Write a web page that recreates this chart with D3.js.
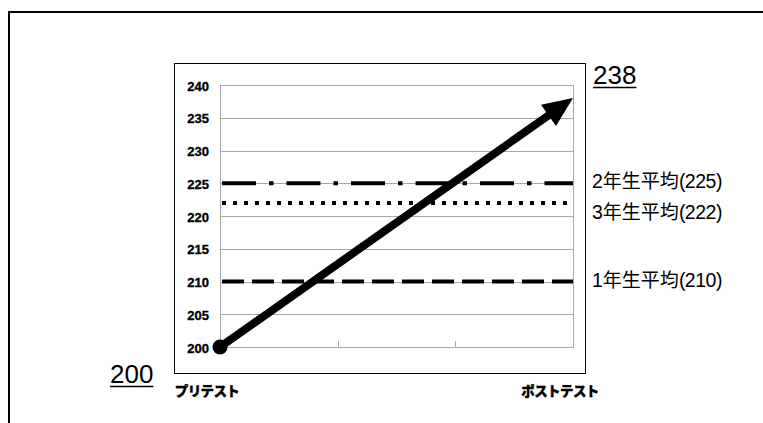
<!DOCTYPE html>
<html>
<head>
<meta charset="utf-8">
<script src="https://cdn.jsdelivr.net/npm/d3@7"></script>
<style>
  html, body { margin: 0; padding: 0; background: #fff; }
  svg { display: block; }
</style>
</head>
<body>
<svg id="chart" width="763" height="423"></svg>
<script>
// Category positions along the x axis (only the first and last are labelled)
const categories = ["pre", "c2", "c3", "post"];
const categoryLabels = ["プリテスト", "", "", "ポストテスト"];

// Score growth: pretest → posttest
const growthCats = ["pre", "post"];
const growthValues = [200, 238];

// Grade averages drawn as reference lines
const gradeNames = ["2年生平均", "3年生平均", "1年生平均"];
const gradeValues = [225, 222, 210];
const gradeDash = ["34,13,4.5,13", "4,7", "22,8"];

// Y axis ticks
const yTicks = [200, 205, 210, 215, 220, 225, 230, 235, 240];

const svg = d3.select("#chart");

// Outer frame (open to the right and bottom)
svg.append("path")
  .attr("d", "M9,423 V12 H763")
  .attr("fill", "none")
  .attr("stroke", "#000")
  .attr("stroke-width", 2);

// Chart box
svg.append("rect")
  .attr("x", 174.5).attr("y", 63.5)
  .attr("width", 411).attr("height", 310)
  .attr("fill", "#fff")
  .attr("stroke", "#000")
  .attr("stroke-width", 1);

const x = d3.scalePoint().domain(categories).range([220, 573]);
const y = d3.scaleLinear().domain([200, 240]).range([347, 85]);

const gridColor = "#a8a8a8";

// Horizontal gridlines
svg.append("g")
  .selectAll("line")
  .data(yTicks)
  .join("line")
  .attr("x1", x.range()[0]).attr("x2", x.range()[1])
  .attr("y1", d => Math.round(y(d)) + 0.5)
  .attr("y2", d => Math.round(y(d)) + 0.5)
  .attr("stroke", gridColor)
  .attr("stroke-width", 1);

// Plot border (left / right)
svg.append("rect")
  .attr("x", x.range()[0] + 0.5)
  .attr("y", Math.round(y(240)) + 0.5)
  .attr("width", x.range()[1] - x.range()[0])
  .attr("height", Math.round(y(200)) - Math.round(y(240)))
  .attr("fill", "none")
  .attr("stroke", gridColor)
  .attr("stroke-width", 1);

// Inward category ticks on the x axis
svg.append("g")
  .selectAll("line")
  .data(categories.slice(1, -1))
  .join("line")
  .attr("x1", d => Math.round(x(d)) + 0.5)
  .attr("x2", d => Math.round(x(d)) + 0.5)
  .attr("y1", Math.round(y(200)))
  .attr("y2", Math.round(y(200)) - 6)
  .attr("stroke", gridColor);

// Y axis tick labels
const yAxis = d3.axisLeft(y).tickValues(yTicks).tickSize(0).tickPadding(11);
const gy = svg.append("g")
  .attr("transform", `translate(${x.range()[0]},1)`)
  .call(yAxis);
gy.select(".domain").remove();
gy.selectAll("text")
  .attr("font-family", "'Liberation Sans', Arial, sans-serif")
  .attr("font-weight", "bold")
  .attr("font-size", 13)
  .attr("fill", "#000")
  .attr("stroke", "#000")
  .attr("stroke-width", 0.35);

// Category labels below the chart box
svg.append("g")
  .selectAll("text")
  .data(categories.filter((c, i) => categoryLabels[i]))
  .join("text")
  .attr("x", d => x(d) - 13)
  .attr("y", 396)
  .attr("text-anchor", "middle")
  .attr("font-family", "'Noto Sans CJK JP', sans-serif")
  .attr("font-weight", "900")
  .attr("font-size", 13.5)
  .attr("letter-spacing", -0.6)
  .attr("stroke", "#000")
  .attr("stroke-width", 0.3)
  .text(d => categoryLabels[categories.indexOf(d)]);

// Grade average lines
svg.append("g")
  .selectAll("line")
  .data(gradeValues)
  .join("line")
  .attr("x1", x.range()[0] + 2).attr("x2", x.range()[1])
  .attr("y1", d => y(d)).attr("y2", d => y(d))
  .attr("stroke", "#000")
  .attr("stroke-width", 4)
  .attr("stroke-dasharray", (d, i) => gradeDash[i]);

// Grade labels, stacked with a minimum vertical gap
const labelYs = [];
gradeValues.forEach((v, i) => {
  let ly = y(v) + 5;
  labelYs.forEach(p => { if (Math.abs(ly - p) < 31) ly = p + 31; });
  labelYs.push(ly);
});
const gl = svg.append("g")
  .selectAll("text")
  .data(gradeValues)
  .join("text")
  .attr("x", 592)
  .attr("y", (d, i) => labelYs[i])
  .attr("font-family", "'Liberation Sans', 'Noto Sans CJK JP', sans-serif")
  .attr("font-size", 19.5)
  .attr("fill", "#000");
gl.append("tspan").text((d, i) => gradeNames[i].slice(0, 1));
gl.append("tspan").text((d, i) => gradeNames[i].slice(1)).attr("font-size", 19);
gl.append("tspan").text(d => `(${d})`).attr("font-size", 19.5).attr("letter-spacing", -0.5);

// Growth arrow: thick line from pretest to posttest with arrowhead
const p0 = [x(growthCats[0]), y(growthValues[0])];
const p1 = [x(growthCats[1]), y(growthValues[1])];
const dx = p1[0] - p0[0], dy = p1[1] - p0[1];
const len = Math.hypot(dx, dy);
const ux = dx / len, uy = dy / len;
const headLen = 30, headHalf = 13;
const base = [p1[0] - ux * headLen, p1[1] - uy * headLen];

svg.append("line")
  .attr("x1", p0[0]).attr("y1", p0[1])
  .attr("x2", base[0] + ux * 2).attr("y2", base[1] + uy * 2)
  .attr("stroke", "#000")
  .attr("stroke-width", 8);

svg.append("path")
  .attr("d", d3.line()([
    p1,
    [base[0] - uy * headHalf, base[1] + ux * headHalf],
    [base[0] + uy * headHalf, base[1] - ux * headHalf]
  ]) + "Z")
  .attr("fill", "#000");

svg.append("circle")
  .attr("cx", p0[0]).attr("cy", p0[1])
  .attr("r", 7.5)
  .attr("fill", "#000");

// Start / end values, underlined
const endLabels = [
  { v: growthValues[0], x: 110, y: 383 },
  { v: growthValues[1], x: 593, y: 84 }
];
endLabels.forEach(d => {
  const t = svg.append("text")
    .attr("x", d.x).attr("y", d.y)
    .attr("font-family", "'Liberation Sans', Arial, sans-serif")
    .attr("font-size", 26)
    .attr("fill", "#000")
    .text(d.v);
  const w = t.node().getComputedTextLength();
  svg.append("line")
    .attr("x1", d.x).attr("x2", d.x + w)
    .attr("y1", d.y + 3.5).attr("y2", d.y + 3.5)
    .attr("stroke", "#000")
    .attr("stroke-width", 1.5);
});
</script>
</body>
</html>
